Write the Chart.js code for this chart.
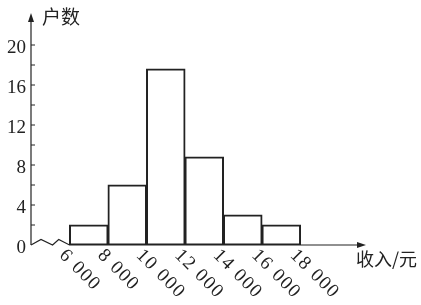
<!DOCTYPE html>
<html>
<head>
<meta charset="utf-8">
<script src="https://cdn.jsdelivr.net/npm/chart.js@4/dist/chart.umd.min.js"></script>
<style>
html,body{margin:0;padding:0;background:#fff;}
#c{display:block;}
</style>
</head>
<body>
<canvas id="c" width="421" height="305"></canvas>
<script>
// ---- data ----
const binStarts = [6000, 8000, 10000, 12000, 14000, 16000];
const binEnds   = [8000, 10000, 12000, 14000, 16000, 18000];
const households = [2, 6, 17.6, 8.8, 3, 2];
const xTickValues = [6000, 8000, 10000, 12000, 14000, 16000, 18000];
const xTickLabels = ['6 000', '8 000', '10 000', '12 000', '14 000', '16 000', '18 000'];
const yTickValues = [0, 4, 8, 12, 16, 20];
const yMinorTicks = [2, 4, 6, 8, 10, 12, 14, 16, 18, 20];
const yTitle = '户数';
const xTitle = '收入/元';

const INK = '#222222';
const NUM_FONT = '"Liberation Serif", "DejaVu Serif", serif';
const CJK_FONT = '"Noto Sans CJK SC", sans-serif';

const barData = binStarts.map((s, i) => ({ x: (s + binEnds[i]) / 2, y: households[i] }));

const decor = {
  id: 'decor',
  afterDraw(chart) {
    const ctx = chart.ctx;
    const xs = chart.scales.x, ys = chart.scales.y;
    const L = chart.chartArea.left, R = chart.chartArea.right;
    const B = ys.getPixelForValue(0), T = chart.chartArea.top;
    const x6 = xs.getPixelForValue(xTickValues[0]);
    ctx.save();
    ctx.strokeStyle = INK;
    ctx.fillStyle = INK;
    ctx.lineWidth = 1.2;
    // y axis with arrow
    const yTip = T - 12;
    ctx.beginPath();
    ctx.moveTo(L, B);
    ctx.lineTo(L, yTip + 6);
    ctx.stroke();
    ctx.beginPath();
    ctx.moveTo(L, yTip);
    ctx.lineTo(L - 3, yTip + 9);
    ctx.lineTo(L + 3, yTip + 9);
    ctx.closePath();
    ctx.fill();
    // x axis with break zigzag and arrow
    const d = x6 - L;
    ctx.beginPath();
    ctx.moveTo(L, B);
    ctx.lineTo(L + 0.26 * d, B - 5.5);
    ctx.lineTo(L + 0.56 * d, B);
    ctx.lineTo(L + 0.72 * d, B - 5.5);
    ctx.lineTo(x6, B);
    ctx.lineTo(R - 6, B);
    ctx.stroke();
    ctx.beginPath();
    ctx.moveTo(R, B);
    ctx.lineTo(R - 9, B - 3);
    ctx.lineTo(R - 9, B + 3);
    ctx.closePath();
    ctx.fill();
    // y minor tick marks
    ctx.lineWidth = 1;
    yMinorTicks.forEach(v => {
      const y = ys.getPixelForValue(v);
      ctx.beginPath();
      ctx.moveTo(L, y);
      ctx.lineTo(L + 4, y);
      ctx.stroke();
    });
    // y tick labels
    ctx.font = '19px ' + NUM_FONT;
    ctx.textAlign = 'right';
    ctx.textBaseline = 'middle';
    yTickValues.forEach(v => {
      ctx.fillText(String(v), L - 5, ys.getPixelForValue(v) + 3);
    });
    // rotated x tick labels
    ctx.font = '19px ' + NUM_FONT;
    ctx.letterSpacing = '1.5px';
    ctx.textAlign = 'left';
    ctx.textBaseline = 'top';
    xTickValues.forEach((v, i) => {
      const x = xs.getPixelForValue(v);
      ctx.save();
      ctx.translate(x, B);
      ctx.rotate(Math.PI / 4);
      ctx.fillText(xTickLabels[i], 0, 1);
      ctx.restore();
    });
    ctx.letterSpacing = '0px';
    // axis titles
    ctx.font = '19px ' + CJK_FONT;
    ctx.textAlign = 'left';
    ctx.textBaseline = 'middle';
    ctx.fillText(yTitle, L + 11, yTip + 4);
    ctx.font = '18px ' + CJK_FONT;
    ctx.fillText(xTitle, R - 10, B + 14);
    ctx.restore();
  }
};

new Chart(document.getElementById('c'), {
  type: 'bar',
  data: {
    datasets: [{
      data: barData,
      backgroundColor: 'rgba(255,255,255,0)',
      borderColor: INK,
      borderWidth: 1,
      borderSkipped: false,
      inflateAmount: 0.5,
      barPercentage: 1,
      categoryPercentage: 1
    }]
  },
  options: {
    responsive: false,
    animation: false,
    devicePixelRatio: 1,
    layout: { padding: { left: 31, right: 55, top: 25, bottom: 60 } },
    plugins: { legend: { display: false }, tooltip: { enabled: false } },
    scales: {
      x: { type: 'linear', min: 4000, max: 21400, offset: false, display: false },
      y: { type: 'linear', min: 0, max: 22, display: false, ticks: { stepSize: 2 } }
    }
  },
  plugins: [decor]
});
</script>
</body>
</html>
